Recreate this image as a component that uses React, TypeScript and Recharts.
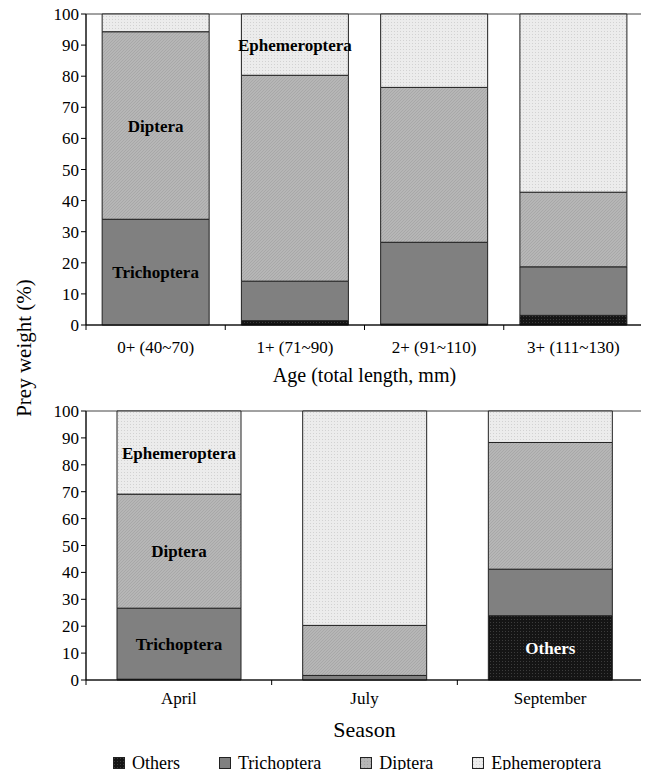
import React from "react";
import { BarChart, Bar, XAxis, YAxis, LabelList, ReferenceArea } from "recharts";

// Excel-style stacked % bars, two panels sharing one y title and one legend.

const FONT = "'Liberation Serif', 'Times New Roman', serif";
const CHART_W = 649;
const PLOT_LEFT = 86;
const PLOT_RIGHT_PAD = 6;

const yTicks = [0, 10, 20, 30, 40, 50, 60, 70, 80, 90, 100];

const ageCategories = ["0+ (40~70)", "1+ (71~90)", "2+ (91~110)", "3+ (111~130)"];
const ageOthers = [0, 1.4, 0.3, 3.1];
const ageTrichoptera = [34.0, 12.7, 26.3, 15.6];
const ageDiptera = [60.3, 66.2, 49.8, 24.0];
const ageEphemeroptera = [5.7, 19.7, 23.6, 57.3];
const ageTrichLabels = ["Trichoptera", "", "", ""];
const ageDipteraLabels = ["Diptera", "", "", ""];
const ageEphLabels = ["", "Ephemeroptera", "", ""];
const ageOthersLabels = ["", "", "", ""];

const seasonCategories = ["April", "July", "September"];
const seasonOthers = [0.3, 0, 23.9];
const seasonTrichoptera = [26.4, 1.7, 17.3];
const seasonDiptera = [42.4, 18.6, 47.1];
const seasonEphemeroptera = [30.9, 79.7, 11.7];
const seasonTrichLabels = ["Trichoptera", "", ""];
const seasonDipteraLabels = ["Diptera", "", ""];
const seasonEphLabels = ["Ephemeroptera", "", ""];
const seasonOthersLabels = ["", "", "Others"];

const SERIES = [
  { key: "others", name: "Others", base: "#151515", dot: "#3c3c3c", label: "#fff" },
  { key: "trich", name: "Trichoptera", base: "#808080", dot: "#7a7a7a", label: "#000" },
  { key: "diptera", name: "Diptera", base: "#b6b6b6", dot: "#a2a2a2", label: "#000" },
  { key: "eph", name: "Ephemeroptera", base: "#ececec", dot: "#d2d2d2", label: "#000" },
];

function buildRows(cats, others, trich, dip, eph, lo, lt, ld, le) {
  return cats.map((name, i) => ({
    name,
    others: others[i],
    trich: trich[i],
    diptera: dip[i],
    eph: eph[i],
    othersLabel: lo[i],
    trichLabel: lt[i],
    dipteraLabel: ld[i],
    ephLabel: le[i],
  }));
}

const ageRows = buildRows(
  ageCategories, ageOthers, ageTrichoptera, ageDiptera, ageEphemeroptera,
  ageOthersLabels, ageTrichLabels, ageDipteraLabels, ageEphLabels
);
const seasonRows = buildRows(
  seasonCategories, seasonOthers, seasonTrichoptera, seasonDiptera, seasonEphemeroptera,
  seasonOthersLabels, seasonTrichLabels, seasonDipteraLabels, seasonEphLabels
);

function Patterns({ prefix }) {
  return (
    <defs>
      {SERIES.map((s) => (
        <pattern key={s.key} id={`${prefix}-${s.key}`} width="3" height="3" patternUnits="userSpaceOnUse">
          <rect width="3" height="3" fill={s.base} />
          {s.key === "diptera" ? (
            <path d="M0,3 L3,0" stroke={s.dot} strokeWidth="0.7" />
          ) : s.key === "trich" ? null : (
            <rect x="1" y="1" width="1" height="1" fill={s.dot} />
          )}
        </pattern>
      ))}
    </defs>
  );
}

// Excel puts the tick marks between categories, so the tick renderer draws
// them at the band edges and the label at the band centre.
function makeCategoryTick(count, gapBelowAxis) {
  const band = (CHART_W - PLOT_LEFT - PLOT_RIGHT_PAD) / count;
  return function CategoryTick(props) {
    const { x, y, payload, index } = props;
    const half = payload && payload.offset ? payload.offset : band / 2;
    const axisY = y - gapBelowAxis;
    return (
      <g>
        <line x1={x - half} x2={x - half} y1={axisY} y2={axisY + 5} stroke="#000" />
        {index === count - 1 ? (
          <line x1={x + half} x2={x + half} y1={axisY} y2={axisY + 5} stroke="#000" />
        ) : null}
        <text x={x} y={y} dy="0.71em" textAnchor="middle" fontSize={17} fill="#000" fontFamily={FONT}>
          {payload.value}
        </text>
      </g>
    );
  };
}

function Panel({ rows, prefix, height, margin, xHeight, tickMargin, title, titleSize, titleOffset, gap }) {
  return (
    <BarChart
      width={CHART_W}
      height={height}
      data={rows}
      margin={margin}
      barCategoryGap={gap}
    >
      <Patterns prefix={prefix} />
      <ReferenceArea y1={0} y2={100} fill="none" stroke="#444" strokeWidth={1} ifOverflow="visible" />
      <XAxis
        dataKey="name"
        height={xHeight}
        tickLine={false}
        tickSize={6}
        axisLine={{ stroke: "#000" }}
        tickMargin={tickMargin}
        interval={0}
        tick={makeCategoryTick(rows.length, 6 + tickMargin)}
        label={{ value: title, position: "insideBottom", offset: titleOffset, fontSize: titleSize, fill: "#000" }}
      />
      <YAxis
        width={PLOT_LEFT}
        domain={[0, 100]}
        ticks={yTicks}
        interval={0}
        tickSize={5}
        tickMargin={2}
        axisLine={{ stroke: "#000" }}
        tickLine={{ stroke: "#000" }}
        tick={{ fontSize: 17, fill: "#000" }}
      />
      {SERIES.map((s) => (
        <Bar
          key={s.key}
          dataKey={s.key}
          name={s.name}
          stackId="a"
          fill={`url(#${prefix}-${s.key})`}
          stroke="#222"
          strokeWidth={1}
          isAnimationActive={false}
        >
          <LabelList
            dataKey={`${s.key}Label`}
            position="center"
            fill={s.label}
            fontSize={17}
            fontWeight="bold"
          />
        </Bar>
      ))}
    </BarChart>
  );
}

function Swatch({ s }) {
  const id = `lg-${s.key}`;
  return (
    <svg width={12} height={12} style={{ display: "block" }}>
      <defs>
        <pattern id={id} width="3" height="3" patternUnits="userSpaceOnUse">
          <rect width="3" height="3" fill={s.base} />
          {s.key === "trich" ? null : <rect x="1" y="1" width="1" height="1" fill={s.dot} />}
        </pattern>
      </defs>
      <rect x={0.5} y={0.5} width={11} height={11} fill={`url(#${id})`} stroke="#222" />
    </svg>
  );
}

export default function App() {
  return (
    <div style={{ position: "relative", width: 649, height: 778, margin: -8, background: "#fff", fontFamily: FONT }}>
      <style>{`.recharts-wrapper text, .recharts-wrapper tspan { font-family: ${FONT} !important; }`}</style>
      <div style={{ position: "absolute", left: 0, top: 0 }}>
        <Panel
          rows={ageRows}
          prefix="age"
          height={390}
          margin={{ top: 14, right: PLOT_RIGHT_PAD, bottom: 0, left: 0 }}
          xHeight={65}
          tickMargin={10}
          title="Age (total length, mm)"
          titleSize={20}
          titleOffset={8}
          gap="11.6%"
        />
      </div>
      <div style={{ position: "absolute", left: 0, top: 390 }}>
        <Panel
          rows={seasonRows}
          prefix="season"
          height={388}
          margin={{ top: 21, right: PLOT_RIGHT_PAD, bottom: 38, left: 0 }}
          xHeight={60}
          tickMargin={6}
          title="Season"
          titleSize={22}
          titleOffset={3}
          gap="16.7%"
        />
      </div>
      <div
        style={{
          position: "absolute",
          left: 24,
          top: 348,
          transform: "translate(-50%, -50%) rotate(-90deg)",
          whiteSpace: "nowrap",
          fontSize: 21,
          color: "#000",
        }}
      >
        Prey weight (%)
      </div>
      <div
        style={{
          position: "absolute",
          left: 113,
          top: 752,
          display: "flex",
          alignItems: "center",
          gap: 39,
          fontSize: 18,
          lineHeight: "22px",
          color: "#000",
        }}
      >
        {SERIES.map((s) => (
          <div key={s.key} style={{ display: "flex", alignItems: "center", gap: 7 }}>
            <Swatch s={s} />
            <span>{s.name}</span>
          </div>
        ))}
      </div>
    </div>
  );
}
